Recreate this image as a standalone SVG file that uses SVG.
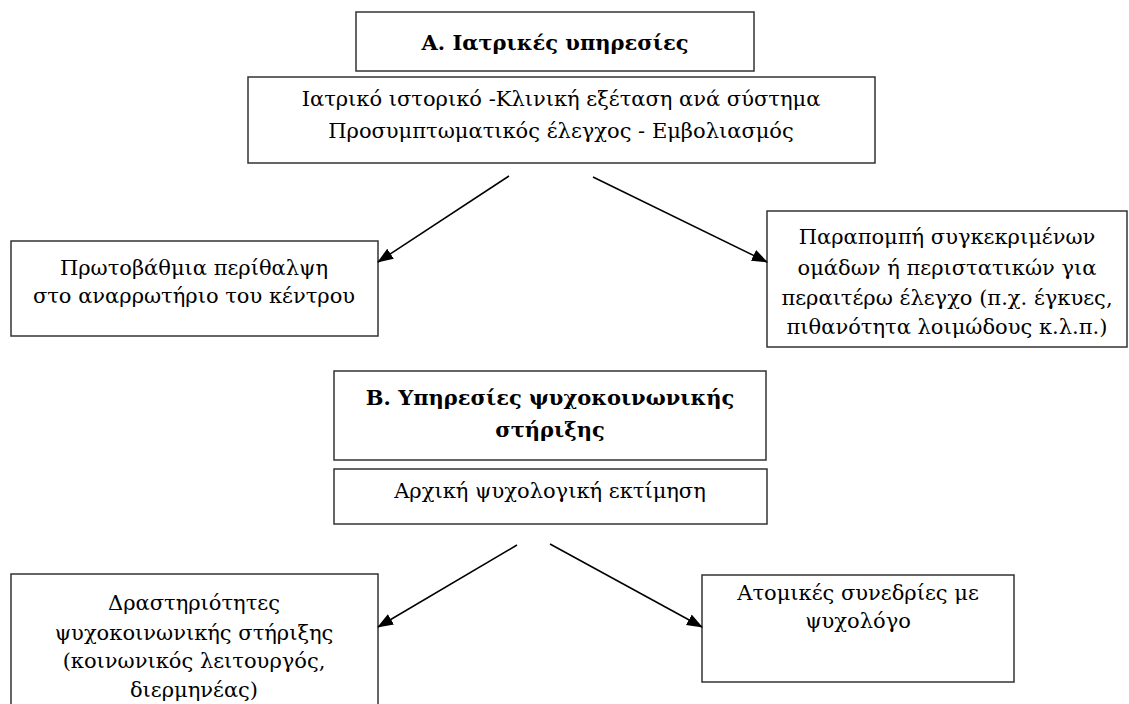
<svg xmlns="http://www.w3.org/2000/svg" width="1129" height="704" viewBox="0 0 1129 704">
<defs>
<marker id="ah" markerWidth="16" markerHeight="12" refX="15" refY="6" orient="auto" markerUnits="userSpaceOnUse">
<path d="M0,0 L16,6 L0,12 Z" fill="#000"/>
</marker>
</defs>
<style>
rect{fill:#fff;stroke:#333;stroke-width:1.5}
text{font-family:"DejaVu Serif","Liberation Serif",serif;font-size:21px;fill:#000;text-anchor:middle}
.b{font-weight:bold;font-size:21px}
.c line{stroke:#000;stroke-width:1.5;marker-end:url(#ah)}
</style>
<rect width="1129" height="704" style="fill:#fff;stroke:none"/>
<g id="nodeA">
<rect x="356" y="12" width="398" height="59"/>
<text class="b" x="555" y="50">Α. Ιατρικές υπηρεσίες</text>
</g>
<g id="nodeA1">
<rect x="248" y="77" width="627" height="86"/>
<text x="561" y="106">Ιατρικό ιστορικό -Κλινική εξέταση ανά σύστημα</text>
<text x="561" y="138">Προσυμπτωματικός έλεγχος - Εμβολιασμός</text>
</g>
<g id="nodeA2">
<rect x="11" y="241" width="367" height="95"/>
<text x="194" y="275">Πρωτοβάθμια περίθαλψη</text>
<text x="194" y="303">στο αναρρωτήριο του κέντρου</text>
</g>
<g id="nodeA3">
<rect x="767" y="211" width="360" height="136"/>
<text x="947" y="244">Παραπομπή συγκεκριμένων</text>
<text x="947" y="275">ομάδων ή περιστατικών για</text>
<text x="947" y="305">περαιτέρω έλεγχο (π.χ. έγκυες,</text>
<text x="947" y="334">πιθανότητα λοιμώδους κ.λ.π.)</text>
</g>
<g id="nodeB">
<rect x="334" y="371" width="432" height="89"/>
<text class="b" x="550" y="405">Β. Υπηρεσίες ψυχοκοινωνικής</text>
<text class="b" x="550" y="437">στήριξης</text>
</g>
<g id="nodeB1">
<rect x="334" y="469" width="433" height="55"/>
<text x="550" y="498">Αρχική ψυχολογική εκτίμηση</text>
</g>
<g id="nodeB2">
<rect x="11" y="574" width="367" height="140"/>
<text x="194" y="610">Δραστηριότητες</text>
<text x="194" y="640">ψυχοκοινωνικής στήριξης</text>
<text x="194" y="668">(κοινωνικός  λειτουργός,</text>
<text x="194" y="697">διερμηνέας)</text>
</g>
<g id="nodeB3">
<rect x="702" y="575" width="312" height="107"/>
<text x="858" y="600">Ατομικές συνεδρίες με</text>
<text x="858" y="628">ψυχολόγο</text>
</g>
<g class="c" id="connectors">
<line x1="509" y1="176" x2="378" y2="262"/>
<line x1="593" y1="177" x2="767" y2="262"/>
<line x1="517" y1="545" x2="378" y2="627"/>
<line x1="550" y1="544" x2="702" y2="627"/>
</g>
</svg>
